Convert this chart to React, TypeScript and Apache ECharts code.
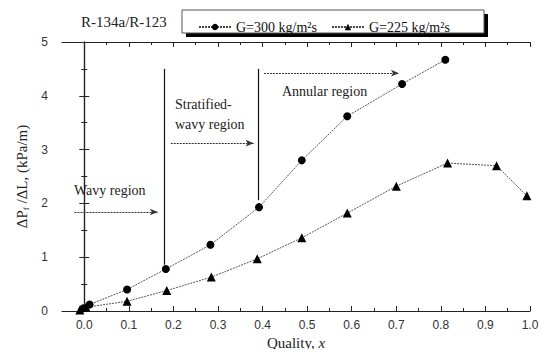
import React, { useEffect, useRef } from "react";
import * as echarts from "echarts";

const xMajor = [0, 0.1, 0.2, 0.3, 0.4, 0.5, 0.6, 0.7, 0.8, 0.9, 1.0];
const xMinor = [0.05, 0.15, 0.25, 0.35, 0.45, 0.55, 0.65, 0.75, 0.85, 0.95];
const seriesNames = ["G=300 kg/m²s", "G=225 kg/m²s"];
const g300X = [-0.002, 0.012, 0.096, 0.183, 0.283, 0.392, 0.488, 0.59, 0.713, 0.81];
const g300Y = [0.05, 0.12, 0.4, 0.78, 1.23, 1.93, 2.8, 3.62, 4.22, 4.67];
const g225X = [-0.01, 0.004, 0.096, 0.185, 0.285, 0.388, 0.488, 0.59, 0.7, 0.815, 0.925, 0.993];
const g225Y = [0.02, 0.07, 0.18, 0.38, 0.63, 0.97, 1.36, 1.82, 2.32, 2.75, 2.7, 2.14];

// region boundary lines and arrows (data coords)
const boundaries = [
  { x: 0.18, y0: 0.86, y1: 4.5 },
  { x: 0.39, y0: 2.06, y1: 4.5 },
];
const arrows = [
  { y: 1.84, x0: -0.022, x1: 0.165 },
  { y: 3.12, x0: 0.194, x1: 0.38 },
  { y: 4.42, x0: 0.403, x1: 0.706 },
];

const serif = "'Liberation Serif', 'DejaVu Serif', serif";
const sans = "'Liberation Sans', Arial, sans-serif";

export default function App() {
  const ref = useRef<HTMLDivElement>(null);
  useEffect(() => {
    if (!ref.current) return;
    const chart = echarts.init(ref.current, null, { renderer: "svg" });
    const axisLine = { show: true, lineStyle: { color: "#222", width: 1.2 } };
    const baseX = { type: "value", min: -0.05, max: 1.0, splitLine: { show: false } };
    const markData: any[] = [];
    boundaries.forEach((b) => {
      markData.push([
        { coord: [b.x, b.y0], symbol: "none", lineStyle: { type: "solid", color: "#111", width: 1.2 } },
        { coord: [b.x, b.y1], symbol: "none" },
      ]);
    });
    arrows.forEach((a) => {
      markData.push([
        { coord: [a.x0, a.y], symbol: "none", lineStyle: { type: [2, 1], color: "#333", width: 1 } },
        { coord: [a.x1, a.y], symbol: "arrow", symbolSize: [5, 8] },
      ]);
    });
    chart.setOption({
      animation: false,
      backgroundColor: "#fff",
      title: {
        text: "R-134a/R-123",
        left: 76,
        top: 9,
        textStyle: { fontFamily: serif, fontSize: 15, fontWeight: "normal", color: "#222" },
      },
      legend: {
        left: 193,
        top: 15,
        itemWidth: 32,
        itemHeight: 8,
        itemGap: 14,
        data: seriesNames,
        textStyle: { fontFamily: serif, fontSize: 14, color: "#111" },
        z: 10,
      },
      graphic: [
        { type: "rect", z: 5, shape: { x: 186, y: 14, width: 302, height: 23 }, style: { fill: "#000" } },
        { type: "rect", z: 6, shape: { x: 182, y: 10, width: 302, height: 23 }, style: { fill: "#fff", stroke: "#555", lineWidth: 1 } },
        { type: "text", z: 10, x: 74, y: 183, style: { text: "Wavy region", font: `14px ${serif}`, fill: "#222" } },
        { type: "text", z: 10, x: 175, y: 97, style: { text: "Stratified-", font: `14px ${serif}`, fill: "#222" } },
        { type: "text", z: 10, x: 175, y: 117, style: { text: "wavy region", font: `14px ${serif}`, fill: "#222" } },
        { type: "text", z: 10, x: 282, y: 84, style: { text: "Annular region", font: `14px ${serif}`, fill: "#222" } },
      ],
      grid: { left: 62, right: 18, top: 42, bottom: 46 },
      xAxis: [
        {
          ...baseX,
          position: "bottom",
          axisLine,
          axisTick: { show: true, inside: true, length: 5, customValues: xMajor, lineStyle: { color: "#222" } },
          axisLabel: {
            customValues: xMajor,
            formatter: (v: number) => v.toFixed(1),
            fontFamily: sans,
            fontSize: 12,
            color: "#333",
            margin: 8,
          },
          name: "{n|Quality, }{i|x}",
          nameLocation: "middle",
          nameGap: 21,
          nameTextStyle: {
            rich: {
              n: { fontFamily: serif, fontSize: 15, color: "#222" },
              i: { fontFamily: serif, fontSize: 15, fontStyle: "italic", color: "#222" },
            },
          },
        },
        {
          ...baseX,
          position: "bottom",
          axisLine: { show: false },
          axisTick: { show: true, inside: true, length: 3, customValues: xMinor, lineStyle: { color: "#222" } },
          axisLabel: { show: false },
        },
        {
          ...baseX,
          position: "top",
          axisLine,
          axisTick: { show: true, inside: true, length: 5, customValues: xMajor, lineStyle: { color: "#222" } },
          axisLabel: { show: false },
        },
        {
          ...baseX,
          position: "top",
          axisLine: { show: false },
          axisTick: { show: true, inside: true, length: 3, customValues: xMinor, lineStyle: { color: "#222" } },
          axisLabel: { show: false },
        },
      ],
      yAxis: [
        {
          type: "value",
          min: 0,
          max: 5,
          interval: 1,
          position: "left",
          axisLine,
          splitLine: { show: false },
          axisTick: { show: true, inside: true, length: 5, lineStyle: { color: "#222" } },
          minorTick: { show: true, splitNumber: 2, length: 3, lineStyle: { color: "#222" } },
          axisLabel: { fontFamily: sans, fontSize: 12, color: "#333", margin: 14 },
          name: "{n|ΔP}{s|f}{n| /ΔL, (kPa/m)}",
          nameLocation: "middle",
          nameGap: 30,
          nameTextStyle: {
            rich: {
              n: { fontFamily: serif, fontSize: 15, color: "#222" },
              s: { fontFamily: serif, fontSize: 9, color: "#222", padding: [8, 0, 0, 0] },
            },
          },
        },
        {
          type: "value",
          min: 0,
          max: 5,
          interval: 1,
          position: "right",
          axisLine,
          splitLine: { show: false },
          axisTick: { show: true, inside: true, length: 5, lineStyle: { color: "#222" } },
          minorTick: { show: true, splitNumber: 2, length: 3, lineStyle: { color: "#222" } },
          axisLabel: { show: false },
        },
      ],
      series: [
        {
          name: seriesNames[0],
          type: "line",
          xAxisIndex: 0,
          yAxisIndex: 0,
          data: g300X.map((x, i) => [x, g300Y[i]]),
          symbol: "circle",
          symbolSize: 8,
          itemStyle: { color: "#000" },
          lineStyle: { color: "#444", width: 0.9, type: [2, 1] },
          markLine: { silent: true, label: { show: false }, symbol: "none", data: markData },
        },
        {
          name: seriesNames[1],
          type: "line",
          xAxisIndex: 0,
          yAxisIndex: 0,
          data: g225X.map((x, i) => [x, g225Y[i]]),
          symbol: "triangle",
          symbolSize: 9,
          itemStyle: { color: "#000" },
          lineStyle: { color: "#444", width: 0.9, type: [2, 1] },
        },
      ],
    });
    return () => chart.dispose();
  }, []);
  return <div ref={ref} style={{ width: 548, height: 357, margin: -8 }} />;
}
